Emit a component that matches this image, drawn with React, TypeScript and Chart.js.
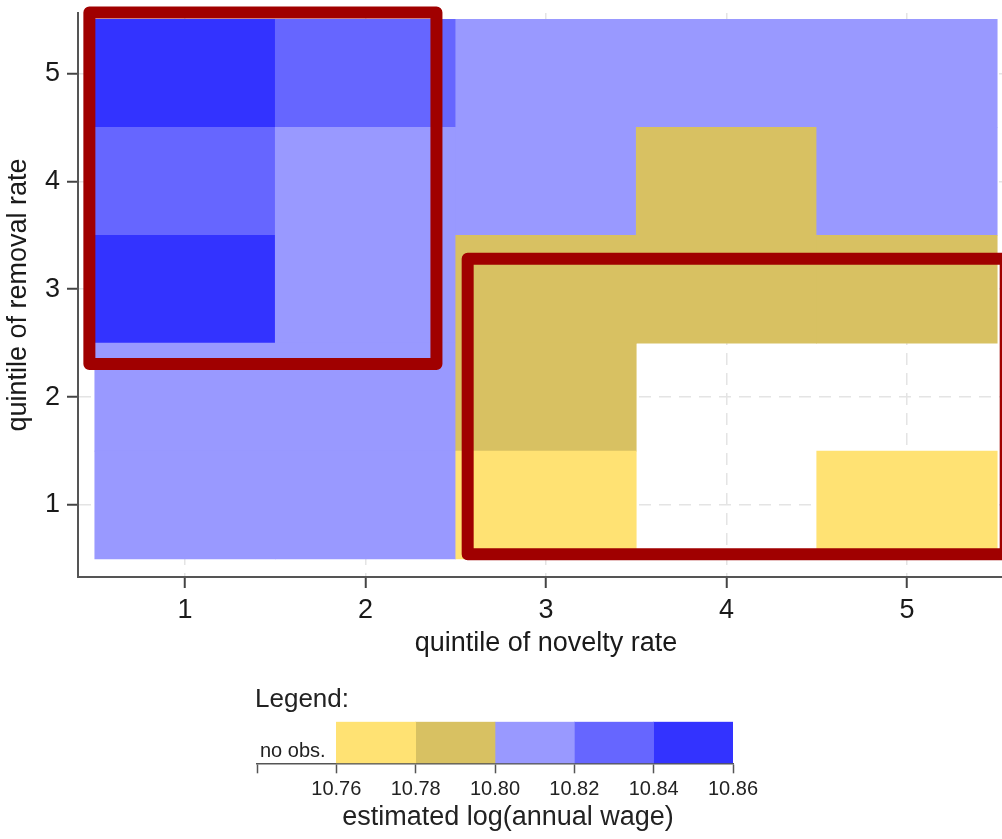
import React, { useEffect, useRef } from "react";
import { Chart, registerables } from "chart.js";

Chart.register(...registerables);

// ---- data ----
const noveltyQuintiles = [1, 2, 3, 4, 5];
const removalQuintiles = [1, 2, 3, 4, 5];
const xTickLabels = ["1", "2", "3", "4", "5"];
const yTickLabels = ["1", "2", "3", "4", "5"];

// estimated log(annual wage), one row per removal quintile, columns = novelty quintile; null = no obs.
const wageRemoval1 = [10.81, 10.81, 10.77, null, 10.77];
const wageRemoval2 = [10.81, 10.81, 10.79, null, null];
const wageRemoval3 = [10.85, 10.81, 10.79, 10.79, 10.79];
const wageRemoval4 = [10.83, 10.81, 10.81, 10.79, 10.81];
const wageRemoval5 = [10.85, 10.83, 10.81, 10.81, 10.81];
const wageRows: (number | null)[][] = [wageRemoval1, wageRemoval2, wageRemoval3, wageRemoval4, wageRemoval5];

const legendBreaks = [10.76, 10.78, 10.8, 10.82, 10.84, 10.86];
const legendColors = ["#FFE273", "#D8C162", "#9999FF", "#6666FF", "#3333FF"];
const legendNoObsLabel = "no obs.";

// highlighted regions in data coordinates (novelty x, removal y)
const highlightBoxes = [
  { x0: 0.47, x1: 2.393, y0: 2.307, y1: 5.564 },
  { x0: 2.566, x1: 5.547, y0: 0.544, y1: 3.281 },
];

const FONT = '"Liberation Sans", Arial, Helvetica, sans-serif';

function colorFor(v: number) {
  for (let i = 0; i < legendColors.length; i++) {
    if (v >= legendBreaks[i] && v < legendBreaks[i + 1]) return legendColors[i];
  }
  return legendColors[legendColors.length - 1];
}

const highlightPlugin = {
  id: "highlightBoxes",
  afterDatasetsDraw(chart: any) {
    const { ctx, scales } = chart;
    const x = scales.x;
    const y = scales.y;
    ctx.save();
    ctx.strokeStyle = "#A00000";
    ctx.lineWidth = 12;
    ctx.lineJoin = "round";
    highlightBoxes.forEach((b) => {
      const l = x.getPixelForValue(b.x0);
      const r = x.getPixelForValue(b.x1);
      const t = y.getPixelForValue(b.y1);
      const btm = y.getPixelForValue(b.y0);
      ctx.strokeRect(l, t, r - l, btm - t);
    });
    ctx.restore();
  },
};

const legendTextPlugin = {
  id: "legendText",
  afterDraw(chart: any) {
    const { ctx, chartArea, scales } = chart;
    const x = scales.x;
    const x0 = x.getPixelForValue(x.min);
    ctx.save();
    ctx.fillStyle = "#222";
    ctx.textBaseline = "alphabetic";
    ctx.textAlign = "left";
    ctx.font = `26px ${FONT}`;
    ctx.fillText("Legend:", x0 - 2, chartArea.top - 15);
    ctx.font = `20px ${FONT}`;
    ctx.fillText(legendNoObsLabel, x0 + 3, chartArea.bottom - 6.6);
    ctx.font = `27px ${FONT}`;
    ctx.textAlign = "center";
    ctx.fillText("estimated log(annual wage)", (chartArea.left + chartArea.right) / 2 + 13, chartArea.bottom + 61.7);
    ctx.restore();
  },
};

function zeroPadding(s: any) {
  s.paddingTop = 0;
  s.paddingBottom = 0;
  s.paddingLeft = 0;
  s.paddingRight = 0;
}

export default function App() {
  const mainRef = useRef<HTMLCanvasElement | null>(null);
  const legendRef = useRef<HTMLCanvasElement | null>(null);

  useEffect(() => {
    if (!mainRef.current || !legendRef.current) return;

    const datasets = removalQuintiles.map((row, ri) => {
      const pts: any[] = [];
      const cols: string[] = [];
      noveltyQuintiles.forEach((col, ci) => {
        const v = wageRows[ri][ci];
        if (v == null) return;
        pts.push({ x: col, y: [row - 0.5, row + 0.5] });
        cols.push(colorFor(v));
      });
      return {
        label: `removal quintile ${row}`,
        data: pts,
        backgroundColor: cols,
        borderWidth: 0,
        grouped: false,
        categoryPercentage: 1,
        barPercentage: 1,
      };
    });

    const main = new Chart(mainRef.current, {
      type: "bar",
      data: { datasets: datasets as any },
      options: {
        animation: false,
        responsive: true,
        maintainAspectRatio: false,
        layout: { padding: { top: 13, left: 0, right: 0, bottom: 0 } },
        plugins: { legend: { display: false }, tooltip: { enabled: false } },
        scales: {
          x: {
            type: "linear",
            min: 0.407,
            max: 5.593,
            offset: false,
            afterFit: (s: any) => {
              s.height = 83;
              zeroPadding(s);
            },
            grid: {
              offset: false,
              color: "#e4e4e4",
              lineWidth: 1.5,
              tickColor: "#444",
              tickWidth: 2,
              tickLength: 11,
            },
            border: { display: true, color: "#555", width: 2, dash: [12, 8] },
            ticks: {
              stepSize: 1,
              includeBounds: false,
              padding: 6,
              color: "#1a1a1a",
              font: { family: FONT, size: 27 },
              maxRotation: 0,
              callback: (v: any) => {
                const i = noveltyQuintiles.indexOf(Number(v));
                return i >= 0 ? xTickLabels[i] : "";
              },
            },
            title: {
              display: true,
              text: "quintile of novelty rate",
              color: "#1a1a1a",
              font: { family: FONT, size: 27 },
              padding: { top: 0, bottom: 0 },
            },
          },
          y: {
            type: "linear",
            min: 0.333,
            max: 5.559,
            afterFit: (s: any) => {
              s.width = 78;
              zeroPadding(s);
            },
            grid: {
              color: "#e4e4e4",
              lineWidth: 1.5,
              tickColor: "#444",
              tickWidth: 2,
              tickLength: 11,
            },
            border: { display: true, color: "#555", width: 2, dash: [12, 8] },
            ticks: {
              stepSize: 1,
              includeBounds: false,
              padding: 7,
              color: "#1a1a1a",
              font: { family: FONT, size: 27 },
              callback: (v: any) => {
                const i = removalQuintiles.indexOf(Number(v));
                return i >= 0 ? yTickLabels[i] : "";
              },
            },
            title: {
              display: true,
              text: "quintile of removal rate",
              color: "#1a1a1a",
              font: { family: FONT, size: 27 },
              padding: { top: 2, bottom: 0 },
            },
          },
        },
      },
      plugins: [highlightPlugin],
    });

    const legend = new Chart(legendRef.current, {
      type: "bar",
      data: {
        labels: ["key"],
        datasets: legendColors.map((c, i) => ({
          label: `${legendBreaks[i]}-${legendBreaks[i + 1]}`,
          data: [[legendBreaks[i], legendBreaks[i + 1]]],
          backgroundColor: c,
          borderWidth: 0,
          grouped: false,
          categoryPercentage: 1,
          barPercentage: 1,
        })) as any,
      },
      options: {
        indexAxis: "y",
        animation: false,
        responsive: true,
        maintainAspectRatio: false,
        layout: { padding: { left: 7, right: 37, top: 41.7, bottom: 0 } },
        plugins: { legend: { display: false }, tooltip: { enabled: false } },
        scales: {
          y: { display: false },
          x: {
            type: "linear",
            min: 10.74,
            max: 10.86,
            afterFit: (s: any) => {
              s.height = 68.7;
              zeroPadding(s);
            },
            grid: {
              display: true,
              drawOnChartArea: false,
              drawTicks: true,
              tickLength: 10,
              tickColor: "#555",
              tickWidth: 1.5,
            },
            border: { display: true, color: "#555", width: 1.5 },
            ticks: {
              stepSize: 0.02,
              padding: 4,
              color: "#222",
              maxRotation: 0,
              autoSkip: false,
              font: { family: FONT, size: 20 },
              callback: (v: any) => (Number(v) < legendBreaks[0] - 0.005 ? "" : Number(v).toFixed(2)),
            },
          },
        },
      },
      plugins: [legendTextPlugin],
    });

    return () => {
      main.destroy();
      legend.destroy();
    };
  }, []);

  return (
    <div
      style={{
        position: "absolute",
        left: 0,
        top: 0,
        width: 1002,
        height: 839,
        overflow: "hidden",
        background: "#fff",
      }}
    >
      <div style={{ position: "absolute", left: 0, top: 0, width: 1014, height: 660 }}>
        <canvas ref={mainRef} />
      </div>
      <div style={{ position: "absolute", left: 250, top: 680, width: 520, height: 152 }}>
        <canvas ref={legendRef} />
      </div>
    </div>
  );
}
